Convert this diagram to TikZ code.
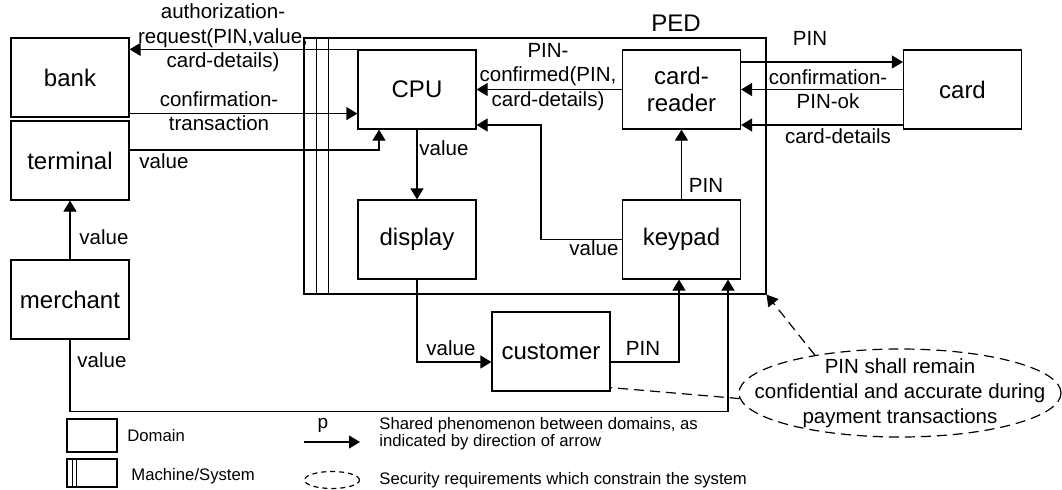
\documentclass[tikz,border=0pt]{standalone}
\usepackage{fontspec}
\setmainfont{Liberation Sans}
\usetikzlibrary{arrows.meta,shapes.geometric}

\tikzstyle{dombox} = [draw, line width=0.6pt, minimum width=59pt, minimum height=39.5pt, inner sep=0pt, align=center, font=\fontsize{12}{13.5}\selectfont]
\tikzstyle{lbl} = [inner sep=0pt, align=center, font=\fontsize{10.25}{12.2}\selectfont]
\tikzstyle{legtxt} = [inner sep=0pt, align=left, anchor=west, font=\fontsize{8.35}{8.6}\selectfont]
\tikzstyle{shared} = [line width=0.6pt, -{Triangle[length=5.5pt,width=6.5pt]}]
\tikzstyle{reqline} = [line width=0.6pt, dash pattern=on 5pt off 3pt]

\begin{document}
\begin{tikzpicture}[x=0.5pt,y=-0.5pt]
      \useasboundingbox (0,0) rectangle (1062,489);
      % domains
      \node[dombox] (bank) at (70,77.5) {bank};
      \node[dombox] (terminal) at (70,160.5) {terminal};
      \node[dombox] (merchant) at (70,299.5) {merchant};
      \node[dombox] (customer) at (551,351.5) {customer};
      \node[dombox] (card) at (962.5,89.5) {card};
      % machine
      \node[draw, line width=0.6pt, minimum width=231pt, minimum height=128pt, inner sep=0pt] (ped) at (535,166) {};
      \draw[line width=0.6pt] ([xshift=6.5pt]ped.north west) -- ([xshift=6.5pt]ped.south west);
      \draw[line width=0.6pt] ([xshift=12.5pt]ped.north west) -- ([xshift=12.5pt]ped.south west);
      \node[lbl, font=\fontsize{12}{13.5}\selectfont] (pedname) at (676,23) {PED};
      \node[dombox] (cpu) at (417,89.5) {CPU};
      \node[dombox] (reader) at (681.5,89.5) {card-\\reader};
      \node[dombox] (display) at (417,239.5) {display};
      \node[dombox] (keypad) at (681.5,239.5) {keypad};
      % shared phenomena
      \draw[shared] (cpu.north west) -- (cpu.north west -| bank.east);
      \node[lbl] at (223,38) {authorization-\\request(PIN,value,\\card-details)};
      \coordinate (ct) at ([yshift=2pt]bank.south east);
      \draw[shared] (ct) -- (ct -| cpu.west);
      \node[lbl] at (219,111) {confirmation-\\transaction};
      \draw[shared] ([yshift=5.25pt]terminal.east) -| ([xshift=-19pt]cpu.south);
      \node[lbl] at (164,161) {value};
      \draw[shared] (merchant.north) -- (terminal.south);
      \node[lbl] at (104,237) {value};
      \draw[shared] (merchant.south) -- ++(0,72) -| ([xshift=23.25pt]keypad.south);
      \node[lbl] at (102,360) {value};
      \draw[shared] (cpu.south) -- (display.north);
      \node[lbl] at (444,148) {value};
      \draw[shared] (reader.west) -- (cpu.east);
      \node[lbl] at (548,77) {PIN-\\confirmed(PIN,\\card-details)};
      \draw[shared] (keypad.west) -- ++(-81,0) |- ([yshift=-17.75pt]cpu.east);
      \node[lbl] at (594,248) {value};
      \draw[shared] (keypad.north) -- (reader.south);
      \node[lbl] at (706,185) {PIN};
      \draw[shared] ([yshift=13.75pt]reader.east) -- ([yshift=13.75pt]card.west);
      \node[lbl] at (810,38) {PIN};
      \draw[shared] (card.west) -- (reader.east);
      \node[lbl] at (828,89) {confirmation-\\PIN-ok};
      \draw[shared] ([yshift=-17.75pt]card.west) -- ([yshift=-17.75pt]reader.east);
      \node[lbl] at (838,136) {card-details};
      \draw[shared] (display.south) |- ([yshift=-5.25pt]customer.west);
      \node[lbl] at (451,348) {value};
      \draw[shared] ([yshift=-5.25pt]customer.east) -| ([xshift=-1.25pt]keypad.south);
      \node[lbl] at (643,348) {PIN};
      % requirement
      \node[ellipse, draw, reqline, minimum width=161pt, minimum height=44pt, inner sep=0pt] (req) at (900,393) {};
      \node[lbl, font=\fontsize{10.25}{12.5}\selectfont] (reqtext) at (req) {PIN shall remain\\confidential and accurate during\\payment transactions};
      \draw[reqline, -{Triangle[length=5.5pt,width=6.5pt]}] (req.156) -- (ped.south east);
      \draw[reqline] (req.182) -- ([yshift=2pt]customer.south east);
      % legend
      \node[draw, line width=0.6pt, minimum width=25pt, minimum height=16.5pt, inner sep=0pt] (legdom) at (92,435.5) {};
      \node[legtxt] at (127,436) {Domain};
      \node[draw, line width=0.6pt, minimum width=25pt, minimum height=14pt, inner sep=0pt] (legmach) at (92,473) {};
      \draw[line width=0.6pt] ([xshift=3pt]legmach.north west) -- ([xshift=3pt]legmach.south west);
      \draw[line width=0.6pt] ([xshift=5pt]legmach.north west) -- ([xshift=5pt]legmach.south west);
      \node[legtxt] at (131,476) {Machine/System};
      \coordinate (lega) at (304,442);
      \coordinate (legb) at (360,442);
      \draw[shared] (lega) -- (legb);
      \node[lbl, font=\fontsize{9.5}{9.5}\selectfont] at (323,425) {p};
      \node[legtxt] at (379,433.5) {Shared phenomenon between domains, as\\indicated by direction of arrow};
      \node[ellipse, draw, line width=0.6pt, dash pattern=on 2.5pt off 2pt, minimum width=27.5pt, minimum height=8.5pt, inner sep=0pt] (legreq) at (332,480) {};
      \node[legtxt] at (379,480) {Security requirements which constrain the system};
      %\draw[reqline] (legreq) -- (req);
\end{tikzpicture}
\end{document}
